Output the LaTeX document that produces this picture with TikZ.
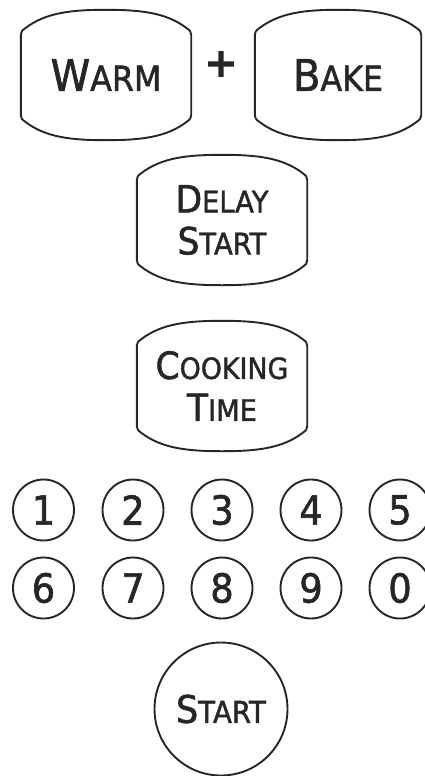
\documentclass[tikz,border=0pt]{standalone}
\usepackage{fontspec}
\setmainfont{DejaVu Sans}
\newfontfamily\kf{DejaVu Sans}[FakeBold=1.5, FakeStretch=0.92]
\newfontfamily\plusfont{DejaVu Sans}[FakeBold=5]
\usetikzlibrary{calc}
\newcommand\smc[4]{{\fontsize{#1}{42pt}\selectfont #3}{\fontsize{#2}{42pt}\selectfont #4}}
\newcommand\barrel[1]{%
\draw[keyline] ($(#1.north west)+(0,25)$)
 .. controls ($(#1.north west)+(0,22)$) and ($(#1.north west)+(1,21)$) .. ($(#1.north west)+(5,18)$)
 .. controls ($(#1.north west)+(25,3)$) and ($(#1.north west)+(50,0)$) .. (#1.north)
 .. controls ($(#1.north east)+(-50,0)$) and ($(#1.north east)+(-25,3)$) .. ($(#1.north east)+(-5,18)$)
 .. controls ($(#1.north east)+(-1,21)$) and ($(#1.north east)+(0,22)$) .. ($(#1.north east)+(0,25)$)
 -- ($(#1.south east)+(0,-25)$)
 .. controls ($(#1.south east)+(0,-22)$) and ($(#1.south east)+(-1,-21)$) .. ($(#1.south east)+(-5,-18)$)
 .. controls ($(#1.south east)+(-25,-3)$) and ($(#1.south east)+(-50,0)$) .. (#1.south)
 .. controls ($(#1.south west)+(50,0)$) and ($(#1.south west)+(25,-3)$) .. ($(#1.south west)+(5,-18)$)
 .. controls ($(#1.south west)+(1,-21)$) and ($(#1.south west)+(0,-22)$) .. ($(#1.south west)+(0,-25)$)
 -- cycle;}
\begin{document}
\begin{tikzpicture}[x=1pt,y=-1pt,
  keyline/.style={draw=black!85, line width=1.9pt, line join=round},
  keybox/.style={minimum width=170pt, minimum height=130pt, inner sep=0pt, align=center, text=black!85},
  numkey/.style={circle, keyline, minimum size=61pt, inner sep=0pt, text=black!85, font=\kf\fontsize{40pt}{40pt}\selectfont},
  startkey/.style={circle, keyline, minimum size=133pt, inner sep=0pt, text=black!85, font=\kf}]
\useasboundingbox (0,0) rectangle (425,776);
\node[keybox, font=\kf] (warm) at (106,75) {\smc{43.5pt}{34.5pt}{W}{ARM}};
\node[keybox, font=\kf, minimum width=166pt] (bake) at (338,75) {\smc{43.5pt}{34.5pt}{B}{AKE}};
\node[font=\plusfont\fontsize{38pt}{38pt}\selectfont, text=black!85, inner sep=0pt] (plus) at (221,64) {+};
\node[keybox, font=\kf\fontsize{37.5pt}{42pt}\selectfont] (delay) at (222,220) {\smc{37.5pt}{29.7pt}{D}{ELAY}\\\smc{37.5pt}{29.7pt}{S}{TART}};
\node[keybox, font=\kf\fontsize{37.5pt}{42pt}\selectfont] (cook) at (222,386) {\smc{37.5pt}{29.2pt}{C}{OOKING}\\\smc{37.5pt}{29.7pt}{T}{IME}};
\barrel{warm}
\barrel{bake}
\barrel{delay}
\barrel{cook}
\node[numkey] (k1) at (43.5,510) {1};
\node[numkey] (k2) at (133,510) {2};
\node[numkey] (k3) at (222,510) {3};
\node[numkey] (k4) at (311,510) {4};
\node[numkey] (k5) at (400,510) {5};
\node[numkey] (k6) at (43.5,588) {6};
\node[numkey] (k7) at (133,588) {7};
\node[numkey] (k8) at (222,588) {8};
\node[numkey] (k9) at (311,588) {9};
\node[numkey] (k0) at (400,588) {0};
\node[startkey] (start) at (221,709) {\smc{38pt}{30pt}{S}{TART}};
\end{tikzpicture}
\end{document}
